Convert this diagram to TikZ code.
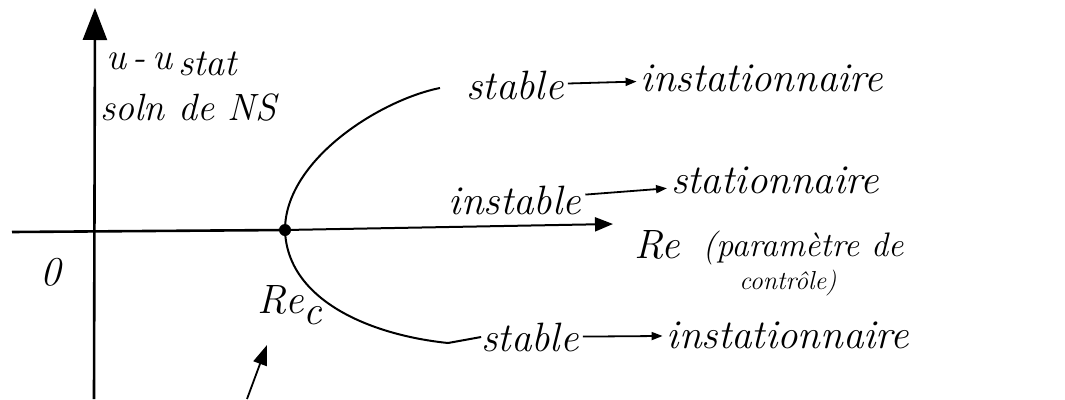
\documentclass[tikz,border=0pt]{standalone}
\usepackage{fontspec}
\setmainfont{Latin Modern Roman}
\usetikzlibrary{arrows.meta}
\begin{document}
\begin{tikzpicture}[x=1pt,y=-1pt,
  lbl/.style={font=\fontsize{41}{43}\selectfont\itshape, inner sep=0pt},
  mid/.style={font=\fontsize{34}{36}\selectfont\itshape, inner sep=0pt},
  axlbl/.style={font=\fontsize{38}{40}\selectfont\itshape, inner sep=0pt},
  small/.style={font=\fontsize{26}{28}\selectfont\itshape, inner sep=0pt},
  axisline/.style={line width=2.6pt},
  bigtip/.style={-{Triangle[length=32pt,width=24pt]}},
  curve/.style={line width=2pt},
  arr/.style={line width=1.8pt, -{Triangle[length=11pt,width=8pt]}, shorten <=4pt, shorten >=4pt}]
\useasboundingbox (0,0) rectangle (1065,399);
% axes
\coordinate (ybot) at (94,399);
\coordinate (ytop) at (95,8);
\draw[axisline,bigtip] (ybot) -- (ytop);
\coordinate (xl) at (12,232);
\node[circle,fill,inner sep=0pt,minimum size=12pt] (Rc) at (285,230) {};
\coordinate (xr) at (613,224);
\draw[axisline] (xl) -- (Rc.center);
\draw[line width=2pt,-{Triangle[length=18pt,width=14pt]}] (Rc.center) -- (xr);
% bifurcation branches
\coordinate (up) at (440,88);
\coordinate (lo) at (448,343);
\draw[curve] (Rc.center) .. controls (285,160) and (380,100) .. (up);
\draw[curve] (Rc.center) .. controls (287,300) and (370,335) .. (lo);
% axis labels
\node[axlbl,anchor=west] (ustat) at (106,64) {u\,-\,u\,\raisebox{-0.35ex}{stat}};
\node[axlbl,anchor=west] (soln) at (100,108) {soln de NS};
\node[lbl] (zero) at (51,272) {0};
\node[lbl] (rec) at (290,305) {Re\raisebox{-0.6ex}{c}};
\coordinate (recTail) at (247,399);
\coordinate (recTip) at (267,345);
\draw[line width=1.8pt,-{Triangle[length=20pt,width=14pt]}] (recTail) -- (recTip);
% branch labels
\node[lbl] (s1) at (515,85) {stable};
\node[lbl] (i1) at (762,78) {instationnaire};
\draw[arr] (s1) -- (i1);
\node[lbl] (s2) at (515,200) {instable};
\node[lbl] (st2) at (775,180) {stationnaire};
\draw[arr] (s2) -- (st2);
\node[lbl] (s3) at (530,337) {stable};
\node[lbl] (i3) at (788,335) {instationnaire};
\draw[arr] (s3) -- (i3);
\draw[curve] (lo) -- (s3.west);
% Re label
\node[lbl] (re) at (657,245) {Re};
\node[mid] (par1) at (803,248) {(paramètre de};
\node[small] (par2) at (788,283) {contrôle)};
\end{tikzpicture}
\end{document}
